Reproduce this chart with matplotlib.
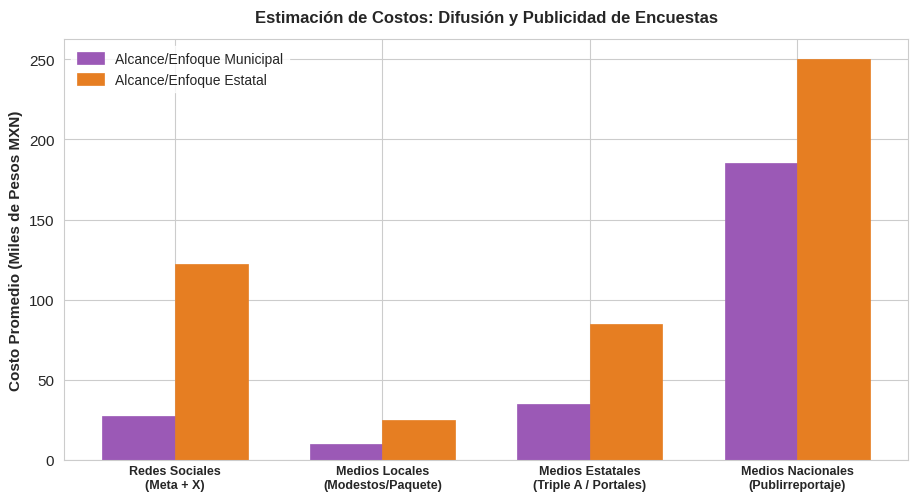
import matplotlib
matplotlib.use("Agg")
import matplotlib.pyplot as plt
import seaborn as sns
import numpy as np

sns.set_style("whitegrid")
plt.rcParams['font.family'] = ['Liberation Sans', 'DejaVu Sans']

categorias = ["Redes Sociales\n(Meta + X)", "Medios Locales\n(Modestos/Paquete)",
              "Medios Estatales\n(Triple A / Portales)", "Medios Nacionales\n(Publirreportaje)"]
municipal = [27.5, 10, 35, 185]
estatal = [122.5, 25, 85, 250]

x = np.arange(len(categorias))
w = 0.35

fig, ax = plt.subplots(figsize=(9.21, 5.02), dpi=100)
ax.bar(x - w/2, municipal, w, color="#9b59b6", edgecolor="#9b59b6", linewidth=0.5,
       label="Alcance/Enfoque Municipal")
ax.bar(x + w/2, estatal, w, color="#e67e22", edgecolor="#e67e22", linewidth=0.5,
       label="Alcance/Enfoque Estatal")

ax.set_xticks(x)
ax.set_xticklabels(categorias, fontweight="bold", fontsize=9)
ax.tick_params(axis="y", labelsize=11)
ax.tick_params(axis="x", pad=0)
ax.set_ylabel("Costo Promedio (Miles de Pesos MXN)", fontweight="bold", fontsize=11)
ax.set_title("Estimación de Costos: Difusión y Publicidad de Encuestas", fontweight="bold", fontsize=12, pad=12)
ax.legend(loc="upper left", fontsize=10, frameon=True, edgecolor="white", handleheight=0.9)
fig.subplots_adjust(left=0.0695, right=0.986, top=0.920, bottom=0.0817)
fig.savefig("out.png", dpi=100)
